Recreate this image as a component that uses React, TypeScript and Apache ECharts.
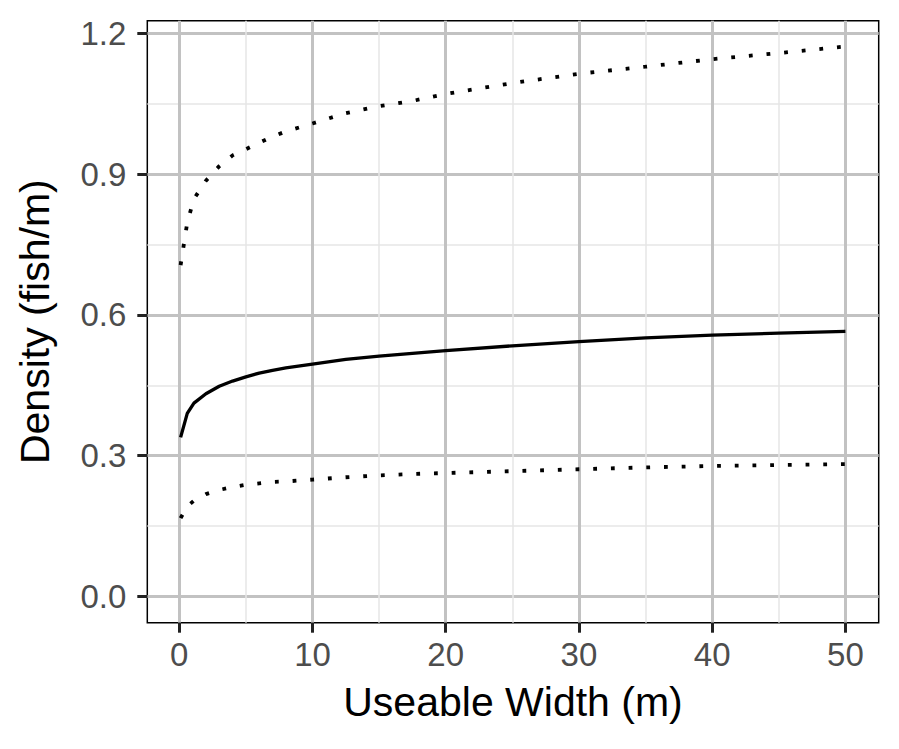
import React, { useEffect, useRef } from "react";
import * as echarts from "echarts";

// Useable width (m)
const X = [0.1, 0.6, 1.1, 2, 3, 4, 5, 6, 7, 8, 10, 12.5, 15, 17.5, 20, 25, 30, 35, 40, 45, 50];
// Estimated density (fish/m)
const MID = [0.339, 0.39, 0.412, 0.432, 0.448, 0.459, 0.468, 0.476, 0.482, 0.487, 0.495, 0.505, 0.512, 0.518, 0.524, 0.534, 0.543, 0.551, 0.557, 0.561, 0.565];
// Upper bound
const UPPER = [0.706, 0.797, 0.847, 0.886, 0.917, 0.94, 0.953, 0.967, 0.98, 0.991, 1.008, 1.03, 1.045, 1.056, 1.071, 1.094, 1.114, 1.129, 1.145, 1.158, 1.172];
// Lower bound
const LOWER = [0.167, 0.192, 0.204, 0.218, 0.227, 0.233, 0.238, 0.241, 0.244, 0.245, 0.249, 0.254, 0.258, 0.261, 0.263, 0.267, 0.271, 0.275, 0.278, 0.28, 0.282];

const X_MAJOR = [0, 10, 20, 30, 40, 50];
const X_MINOR = [5, 15, 25, 35, 45];
const Y_MAJOR = [0, 0.3, 0.6, 0.9, 1.2];
const Y_MINOR = [0.15, 0.45, 0.75, 1.05];

const X_MIN = -2.4;
const X_MAX = 52.5;
const Y_MIN = -0.056;
const Y_MAX = 1.227;

const FONT = "'Liberation Sans', Arial, Helvetica, sans-serif";

export default function App() {
  const ref = useRef<HTMLDivElement>(null);
  useEffect(() => {
    if (!ref.current) return;
    const chart = echarts.init(ref.current, undefined, { renderer: "svg" });
    const pts = (ys: number[]) => X.map((x, i) => [x, ys[i]]);
    const minorSplit = { show: true, lineStyle: { color: "#e6e6e6", width: 1.5 } };
    const majorSplit = { show: true, lineStyle: { color: "#c2c2c2", width: 3 } };
    chart.setOption({
      animation: false,
      backgroundColor: "#ffffff",
      textStyle: { fontFamily: FONT },
      grid: {
        left: 147.3,
        right: 20.3,
        top: 20.7,
        bottom: 126.3,
        show: true,
        borderColor: "#000000",
        borderWidth: 1.5,
        backgroundColor: "transparent",
        outerBoundsMode: "none",
      },
      xAxis: [
        {
          type: "value",
          position: "bottom",
          min: X_MIN,
          max: X_MAX,
          axisLine: { show: false, onZero: false },
          axisTick: { show: false, customValues: X_MINOR },
          axisLabel: { show: false, customValues: X_MINOR },
          splitLine: minorSplit,
        },
        {
          type: "value",
          position: "bottom",
          offset: 0,
          min: X_MIN,
          max: X_MAX,
          axisLine: { show: false, onZero: false },
          axisTick: { show: true, length: 10, lineStyle: { color: "#222", width: 3 }, customValues: X_MAJOR },
          axisLabel: {
            show: true,
            customValues: X_MAJOR,
            margin: 15,
            color: "#4d4d4d",
            fontSize: 33,
            fontFamily: FONT,
            formatter: (v: number) => String(v),
          },
          splitLine: majorSplit,
          name: "Useable Width (m)",
          nameLocation: "middle",
          nameGap: 59,
          nameTextStyle: { color: "#000", fontSize: 41, fontFamily: FONT },
        },
      ],
      yAxis: [
        {
          type: "value",
          position: "left",
          min: Y_MIN,
          max: Y_MAX,
          axisLine: { show: false, onZero: false },
          axisTick: { show: false, customValues: Y_MINOR },
          axisLabel: { show: false, customValues: Y_MINOR },
          splitLine: minorSplit,
        },
        {
          type: "value",
          position: "left",
          offset: 0,
          min: Y_MIN,
          max: Y_MAX,
          axisLine: { show: false, onZero: false },
          axisTick: { show: true, length: 10, lineStyle: { color: "#222", width: 3 }, customValues: Y_MAJOR },
          axisLabel: {
            show: true,
            customValues: Y_MAJOR,
            margin: 21,
            color: "#4d4d4d",
            fontSize: 33,
            fontFamily: FONT,
            formatter: (v: number) => v.toFixed(1),
          },
          splitLine: majorSplit,
          name: "Density (fish/m)",
          nameLocation: "middle",
          nameGap: 92,
          nameTextStyle: { color: "#000", fontSize: 41, fontFamily: FONT },
        },
      ],
      series: [
        {
          type: "line",
          xAxisIndex: 1,
          yAxisIndex: 1,
          data: pts(UPPER),
          showSymbol: false,
          symbol: "none",
          lineStyle: { color: "#000", width: 3.8, type: [3.8, 13.9], cap: "butt" },
        },
        {
          type: "line",
          xAxisIndex: 1,
          yAxisIndex: 1,
          data: pts(MID),
          showSymbol: false,
          symbol: "none",
          lineStyle: { color: "#000", width: 3.3 },
        },
        {
          type: "line",
          xAxisIndex: 1,
          yAxisIndex: 1,
          data: pts(LOWER),
          showSymbol: false,
          symbol: "none",
          lineStyle: { color: "#000", width: 3.8, type: [3.8, 13.9], cap: "butt" },
        },
      ],
    });
    return () => chart.dispose();
  }, []);
  return (
    <div
      ref={ref}
      style={{ position: "fixed", left: 0, top: 0, width: 899, height: 749, background: "#fff" }}
    />
  );
}
